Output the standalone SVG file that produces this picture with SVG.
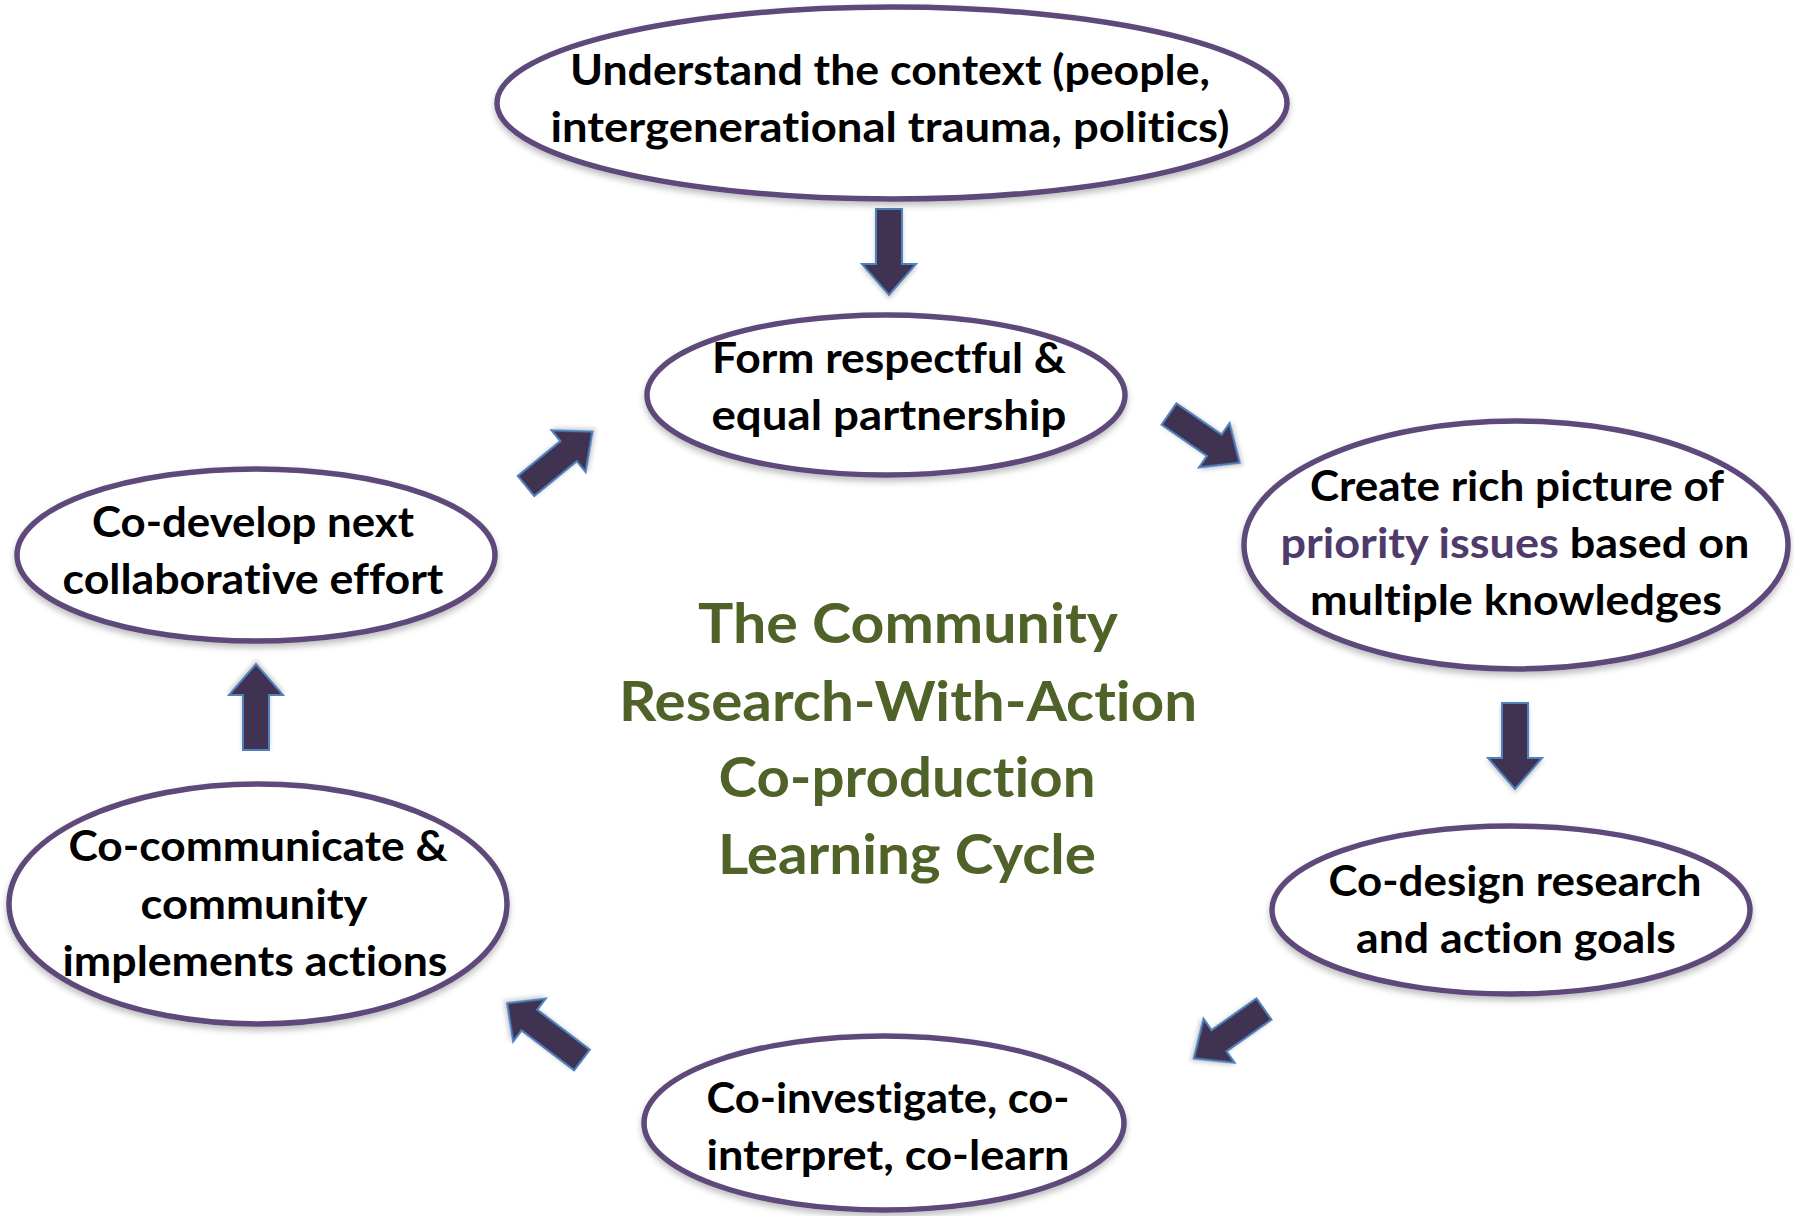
<svg xmlns="http://www.w3.org/2000/svg" width="1794" height="1216" viewBox="0 0 1794 1216">
<defs>
<style>
.node ellipse{fill:#ffffff;stroke:#5f497a;stroke-width:5.5;filter:url(#sh);}
.t{font-family:Lato,"Open Sans","Liberation Sans",sans-serif;font-weight:700;font-size:42px;fill:#000;text-anchor:middle;font-variant-ligatures:none;font-feature-settings:"liga" 0,"dlig" 0;}
.title{font-family:Lato,"Open Sans","Liberation Sans",sans-serif;font-weight:700;font-size:55px;fill:#4f6228;text-anchor:middle;font-variant-ligatures:none;font-feature-settings:"liga" 0,"dlig" 0;}
.hl{fill:#4e3b6b;}
.arrow{fill:#3f3151;stroke:#4f81bd;stroke-width:2;stroke-linejoin:miter;filter:url(#ash);}
</style>
<filter id="sh" x="-10%" y="-10%" width="120%" height="130%">
<feDropShadow dx="0" dy="4" stdDeviation="3" flood-color="#000" flood-opacity="0.25"/>
</filter>
<filter id="ash" x="-30%" y="-30%" width="160%" height="160%">
<feDropShadow dx="0" dy="3" stdDeviation="2" flood-color="#000" flood-opacity="0.2"/>
</filter>
<polygon id="arr" points="-13,0 13,0 13,55 27,55 0,86 -27,55 -13,55"/>
<polygon id="arrL" points="-13,0 13,0 13,66 27,66 0,94 -27,66 -13,66"/>
</defs>
<rect width="1794" height="1216" fill="#ffffff"/>

<g id="connectors">
<use href="#arr" class="arrow" transform="translate(889,209)"/>
<use href="#arr" class="arrow" transform="translate(1169,414) rotate(-55.4)"/>
<use href="#arr" class="arrow" transform="translate(1515,703)"/>
<use href="#arr" class="arrow" transform="translate(1264,1009) rotate(54.8)"/>
<use href="#arrL" class="arrow" transform="translate(582,1060) rotate(127.2)"/>
<use href="#arr" class="arrow" transform="translate(256,750) rotate(180)"/>
<use href="#arr" class="arrow" transform="translate(526,486) rotate(-129.3)"/>
</g>

<g id="node-context" class="node">
<ellipse cx="892" cy="103" rx="395" ry="96"/>
<text class="t" x="890" y="85" textLength="640" lengthAdjust="spacingAndGlyphs">Understand the context (people,</text>
<text class="t" x="890" y="142" textLength="679" lengthAdjust="spacingAndGlyphs">intergenerational trauma, politics)</text>
</g>

<g id="node-partnership" class="node">
<ellipse cx="886" cy="395" rx="239" ry="80"/>
<text class="t" x="889" y="373" textLength="354" lengthAdjust="spacingAndGlyphs">Form respectful &amp;</text>
<text class="t" x="889" y="430" textLength="355" lengthAdjust="spacingAndGlyphs">equal partnership</text>
</g>

<g id="node-richpicture" class="node">
<ellipse cx="1516" cy="545" rx="272" ry="124"/>
<text class="t" x="1517" y="501" textLength="414" lengthAdjust="spacingAndGlyphs">Create rich picture of</text>
<text class="t" x="1515" y="558" textLength="469" lengthAdjust="spacingAndGlyphs"><tspan class="hl">priority issues</tspan> based on</text>
<text class="t" x="1516" y="615" textLength="412" lengthAdjust="spacingAndGlyphs">multiple knowledges</text>
</g>

<g id="node-codesign" class="node">
<ellipse cx="1511" cy="910" rx="239" ry="84"/>
<text class="t" x="1515" y="896" textLength="373" lengthAdjust="spacingAndGlyphs">Co-design research</text>
<text class="t" x="1516" y="953" textLength="320" lengthAdjust="spacingAndGlyphs">and action goals</text>
</g>

<g id="node-coinvestigate" class="node">
<ellipse cx="884" cy="1123" rx="240" ry="87"/>
<text class="t" x="888" y="1113" textLength="363" lengthAdjust="spacingAndGlyphs">Co-investigate, co-</text>
<text class="t" x="888" y="1170" textLength="363" lengthAdjust="spacingAndGlyphs">interpret, co-learn</text>
</g>

<g id="node-cocommunicate" class="node">
<ellipse cx="258" cy="904" rx="249" ry="120"/>
<text class="t" x="258" y="861" textLength="379" lengthAdjust="spacingAndGlyphs">Co-communicate &amp;</text>
<text class="t" x="254" y="919" textLength="227" lengthAdjust="spacingAndGlyphs">community</text>
<text class="t" x="255" y="976" textLength="385" lengthAdjust="spacingAndGlyphs">implements actions</text>
</g>

<g id="node-codevelop" class="node">
<ellipse cx="256" cy="555" rx="239" ry="86"/>
<text class="t" x="253" y="537" textLength="322" lengthAdjust="spacingAndGlyphs">Co-develop next</text>
<text class="t" x="253" y="594" textLength="381" lengthAdjust="spacingAndGlyphs">collaborative effort</text>
</g>

<g id="title">
<text class="title" x="908" y="643" textLength="420" lengthAdjust="spacingAndGlyphs">The Community</text>
<text class="title" x="908" y="721" textLength="578" lengthAdjust="spacingAndGlyphs">Research-With-Action</text>
<text class="title" x="907" y="797" textLength="377" lengthAdjust="spacingAndGlyphs">Co-production</text>
<text class="title" x="907" y="874" textLength="378" lengthAdjust="spacingAndGlyphs">Learning Cycle</text>
</g>
</svg>
